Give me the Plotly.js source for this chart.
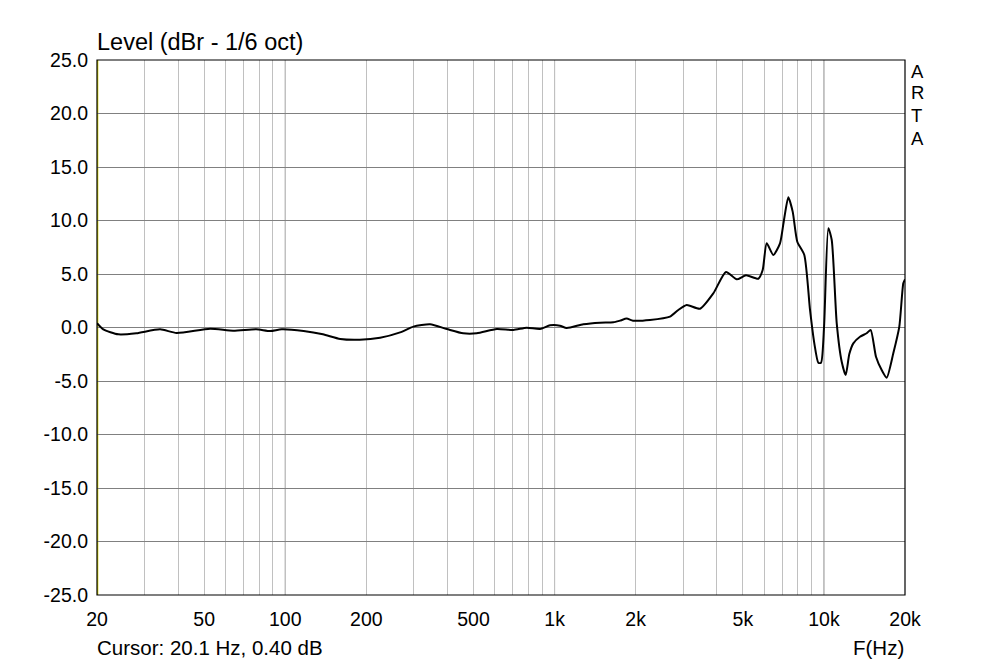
<!DOCTYPE html>
<html><head><meta charset="utf-8">
<script src="https://cdn.plot.ly/plotly-3.0.1.min.js"></script>
<style>html,body{margin:0;padding:0;background:#fff}#chart{width:1000px;height:666px}</style>
</head><body><div id="chart"></div>
<script>
const freqHz = [20,21.1,24,28,34.3,39.5,52.6,64,78,88,97,117,138,160,189,225,267,299,345,398,458,514,610,703,788,883,962,1047,1109,1278,1475,1652,1750,1852,1955,2261,2683,2880,3094,3467,3884,4328,4745,5138,5708,5924,6130,6486,6870,7108,7376,7656,7964,8456,8880,9212,9534,9757,10012,10386,10690,11157,11642,12046,12424,12857,13613,14413,14916,15606,16387,17104,18096,19050,19712,20000];
const levelDb = [0.40,-0.17,-0.64,-0.54,-0.17,-0.51,-0.11,-0.30,-0.17,-0.33,-0.17,-0.33,-0.64,-1.07,-1.14,-0.96,-0.46,0.08,0.30,-0.14,-0.54,-0.54,-0.14,-0.23,-0.02,-0.14,0.20,0.17,-0.05,0.30,0.45,0.48,0.64,0.83,0.64,0.70,1.01,1.64,2.10,1.76,3.19,5.19,4.50,4.88,4.56,5.37,7.87,6.78,7.87,10.05,12.17,10.83,8.02,6.78,1.64,-1.48,-3.29,-3.29,0.08,9.27,8.18,0.39,-3.20,-4.44,-2.48,-1.48,-0.86,-0.54,-0.23,-2.73,-3.97,-4.69,-2.41,0.08,4.13,4.50];
const xGridVals = [20,30,40,50,60,70,80,90,100,200,300,400,500,600,700,800,900,1000,2000,3000,4000,5000,6000,7000,8000,9000,10000,20000];
const xLabelMap = {20:'20',50:'50',100:'100',200:'200',500:'500',1000:'1k',2000:'2k',5000:'5k',10000:'10k',20000:'20k'};
const decadeVals = [100,1000,10000];
const yTickVals = [-25,-20,-15,-10,-5,0,5,10,15,20,25];
const yTickText = ['-25.0','-20.0','-15.0','-10.0','-5.0','0.0','5.0','10.0','15.0','20.0','25.0'];
const titleText = 'Level (dBr - 1/6 oct)';
const cursorText = 'Cursor: 20.1 Hz, 0.40 dB';
const xAxisLabel = 'F(Hz)';
const brandLetters = ['A','R','T','A'];
const cursorFreq = 20.1;

const font = 'Arial, "Liberation Sans", sans-serif';
const shapes = decadeVals.map(v => ({type:'line', xref:'x', yref:'paper', x0:v, x1:v, y0:0, y1:1, line:{color:'#808080', width:1}, layer:'below'}));
shapes.push({type:'line', xref:'x', yref:'paper', x0:cursorFreq, x1:cursorFreq, y0:0, y1:1, line:{color:'#d8d800', width:1.5}, layer:'below'});
shapes.push({type:'rect', xref:'paper', yref:'paper', x0:0, x1:1, y0:0, y1:1, line:{color:'#000', width:1.2}, fillcolor:'rgba(0,0,0,0)'});

const annotations = [
  {text:titleText, xref:'paper', yref:'paper', x:0, y:1, xanchor:'left', yanchor:'middle', xshift:-2, yshift:18, showarrow:false, font:{family:font, size:23.5, color:'#000'}},
  {text:cursorText, xref:'paper', yref:'paper', x:0, y:0, xanchor:'left', yanchor:'middle', xshift:-2, yshift:-52.5, showarrow:false, font:{family:font, size:20.5, color:'#000'}},
  {text:xAxisLabel, xref:'paper', yref:'paper', x:1, y:0, xanchor:'right', yanchor:'middle', xshift:1, yshift:-52.5, showarrow:false, font:{family:font, size:20.5, color:'#000'}}
];
const letterShifts = [-11,-32,-55,-78];
brandLetters.forEach((c,i)=>annotations.push({text:c, xref:'paper', yref:'paper', x:1, y:1, xanchor:'left', yanchor:'middle', xshift:4, yshift:letterShifts[i], showarrow:false, font:{family:font, size:18.5, color:'#000'}}));

Plotly.newPlot('chart', [{
  x: freqHz, y: levelDb, type:'scatter', mode:'lines',
  line:{color:'#000', width:2, shape:'spline', smoothing:0.6}, hoverinfo:'skip'
}], {
  width:1000, height:666,
  margin:{l:97, r:95, t:60, b:71},
  paper_bgcolor:'#fff', plot_bgcolor:'#fff',
  showlegend:false,
  xaxis:{type:'log', range:[Math.log10(20), Math.log10(20000)], tickvals:xGridVals, ticktext:xGridVals.map(v=>xLabelMap[v]||''),
    showgrid:true, gridcolor:'#c0c0c0', gridwidth:1, zeroline:false, ticks:'', showline:false, ticklabelstandoff:10,
    tickfont:{family:font, size:19.5, color:'#000'}, tickangle:0},
  yaxis:{range:[-25,25], tickvals:yTickVals, ticktext:yTickText, showgrid:true, gridcolor:'#808080', gridwidth:1,
    zeroline:false, ticks:'', showline:false, ticklabelstandoff:8, tickfont:{family:font, size:19.5, color:'#000'}},
  shapes: shapes,
  annotations: annotations
}, {staticPlot:true});
</script></body></html>
